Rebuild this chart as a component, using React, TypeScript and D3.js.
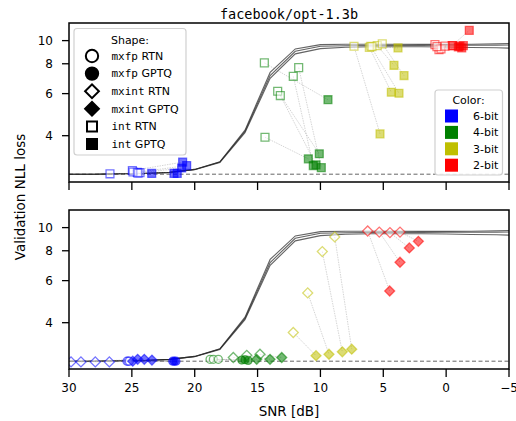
import React from 'react';
import * as d3 from 'd3';

// curves of the model loss vs SNR (three runs)
const snrGrid = [30, 28, 26, 24, 22, 20, 18, 16, 14, 12, 10, 8, 6, 4, 2, 0, -2, -4, -5];
const lossRunA = [2.76, 2.76, 2.77, 2.78, 2.81, 2.89, 3.11, 4.22, 7.36, 9.23, 9.62, 9.66, 9.66, 9.65, 9.64, 9.64, 9.66, 9.70, 9.72];
const lossRunB = [2.76, 2.76, 2.77, 2.78, 2.81, 2.89, 3.10, 4.17, 7.14, 9.02, 9.47, 9.52, 9.54, 9.55, 9.55, 9.56, 9.56, 9.57, 9.58];
const lossRunC = [2.76, 2.76, 2.77, 2.78, 2.81, 2.88, 3.09, 4.12, 6.95, 8.80, 9.26, 9.38, 9.42, 9.43, 9.42, 9.40, 9.36, 9.33, 9.30];
const baselineLoss = 2.76;

// top panel: int RTN -> int GPTQ, [snr, loss]
const int6RTN = [[26.74, 2.77], [24.96, 2.86], [24.57, 2.81], [24.35, 2.80], [24.91, 2.82], [24.51, 2.79]];
const int6GPTQ = [[23.42, 2.78], [20.96, 3.10], [20.64, 3.00], [21.39, 2.78], [21.65, 2.78], [21.04, 2.93]];
const int4RTN = [[14.46, 8.07], [14.41, 3.94], [11.73, 7.71], [12.16, 7.09], [13.40, 6.14], [13.19, 5.89]];
const int4GPTQ = [[9.40, 5.66], [10.96, 3.20], [9.93, 2.94], [10.57, 3.00], [10.09, 3.36], [10.35, 3.02]];
const int3RTN = [[7.33, 9.47], [6.11, 9.37], [6.00, 9.47], [5.48, 9.53], [5.08, 9.69], [5.90, 9.44]];
const int3GPTQ = [[5.26, 4.07], [4.36, 6.08], [3.75, 6.02], [4.15, 7.88], [3.35, 7.14], [3.83, 9.32]];
const int2RTN = [[0.89, 9.62], [0.57, 9.17], [0.41, 9.23], [0.73, 9.44], [-0.47, 9.53], [0.09, 9.48]];
const int2GPTQ = [[-0.52, 9.53], [-0.97, 9.41], [-1.24, 9.32], [-1.37, 9.53], [-1.84, 11.04], [-1.10, 9.48]];

// bottom panel: mxint / mxfp RTN -> GPTQ
const mxint6RTN = [[29.84, 2.74], [29.05, 2.74], [27.91, 2.74], [26.79, 2.74]];
const mxint6GPTQ = [[24.93, 2.76], [24.54, 2.81], [24.01, 2.81], [23.40, 2.79]];
const mxfp6RTN = [[25.39, 2.76], [25.30, 2.76], [25.20, 2.76]];
const mxfp6GPTQ = [[21.75, 2.76], [21.62, 2.76], [21.49, 2.76]];
const mxfp4RTN = [[18.78, 2.81], [18.52, 2.81], [18.12, 2.81]];
const mxfp4GPTQ = [[16.26, 2.79], [16.00, 2.80], [15.75, 2.78]];
const mxint4RTN = [[16.93, 2.86], [15.86, 2.92], [14.81, 2.95]];
const mxint4GPTQ = [[15.07, 2.81], [14.01, 2.81], [13.08, 2.86]];
const mxint3RTN = [[12.16, 3.64], [11.01, 5.33], [9.85, 7.94], [8.86, 9.14]];
const mxint3GPTQ = [[10.35, 2.91], [9.32, 2.95], [8.26, 3.02], [7.51, 3.10]];
const mxint2RTN = [[6.24, 9.68], [5.32, 9.58], [4.47, 9.53], [3.67, 9.58]];
const mxint2GPTQ = [[4.49, 5.43], [3.67, 7.16], [2.93, 8.22], [2.21, 8.76]];

const bitLabels = ['6-bit', '4-bit', '3-bit', '2-bit'];
const bitColors = ['#0000ff', '#008000', '#bfbf00', '#ff0000'];
const xTicks = [30, 25, 20, 15, 10, 5, 0, -5];
const yTicks = [4, 6, 8, 10];

const W = 516, H = 421;
const left = 69, right = 509;
const panels = [{ top: 23, bottom: 182 }, { top: 210, bottom: 369 }];

const x = d3.scaleLinear().domain([30, -5]).range([left, right]);
const font = 'DejaVu Sans';
const mono = 'DejaVu Sans Mono';

const symPath = (shape, size) => {
  if (shape === 'circle') return d3.symbol(d3.symbolCircle, size)();
  return d3.symbol(d3.symbolSquare, size)();
};

const Marker = ({ cx, cy, shape, color, filled, size, sw = 1.3, op = 0.55 }) => (
  <path
    d={symPath(shape, size)}
    transform={`translate(${cx},${cy})${shape === 'diamond' ? ' rotate(45)' : ''}`}
    fill={filled ? color : 'white'}
    fillOpacity={filled ? op : 0.5}
    stroke={color}
    strokeOpacity={op}
    strokeWidth={sw}
  />
);

const topGroups = [
  { shape: 'square', color: 0, rtn: int6RTN, gptq: int6GPTQ },
  { shape: 'square', color: 1, rtn: int4RTN, gptq: int4GPTQ },
  { shape: 'square', color: 2, rtn: int3RTN, gptq: int3GPTQ },
  { shape: 'square', color: 3, rtn: int2RTN, gptq: int2GPTQ },
];
const bottomGroups = [
  { shape: 'diamond', color: 0, rtn: mxint6RTN, gptq: mxint6GPTQ },
  { shape: 'circle', color: 0, rtn: mxfp6RTN, gptq: mxfp6GPTQ },
  { shape: 'circle', color: 1, rtn: mxfp4RTN, gptq: mxfp4GPTQ },
  { shape: 'diamond', color: 1, rtn: mxint4RTN, gptq: mxint4GPTQ },
  { shape: 'diamond', color: 2, rtn: mxint3RTN, gptq: mxint3GPTQ },
  { shape: 'diamond', color: 3, rtn: mxint2RTN, gptq: mxint2GPTQ },
];
const markerSize = { square: 62, diamond: 50, circle: 50 };

const Panel = ({ idx, groups, showXLabels }) => {
  const { top, bottom } = panels[idx];
  const y = d3.scaleLog().domain([2.56, 11.85]).range([bottom, top]);
  const line = d3.line().x(d => x(d[0])).y(d => y(d[1]));
  const runs = [lossRunA, lossRunB, lossRunC];
  const clipId = `clip${idx}`;
  return (
    <g>
      <clipPath id={clipId}>
        <rect x={left} y={top} width={right - left} height={bottom - top} />
      </clipPath>
      <g clipPath={`url(#${clipId})`}>
        <line x1={left} x2={right} y1={y(baselineLoss)} y2={y(baselineLoss)} stroke="#555" strokeWidth={0.9} strokeDasharray="4,2.5" />
        {runs.map((r, i) => (
          <path key={i} d={line(snrGrid.map((s, j) => [s, r[j]]))} fill="none" stroke="#222" strokeOpacity={0.7} strokeWidth={1.1} />
        ))}
        {groups.map((g, gi) => g.rtn.map((p, i) => (
          <line key={`l${gi}-${i}`} x1={x(p[0])} y1={y(p[1])} x2={x(g.gptq[i][0])} y2={y(g.gptq[i][1])}
            stroke="#888" strokeOpacity={0.6} strokeWidth={0.6} strokeDasharray="1.5,1" />
        )))}
        {groups.map((g, gi) => g.rtn.map((p, i) => (
          <Marker key={`r${gi}-${i}`} cx={x(p[0])} cy={y(p[1])} shape={g.shape} color={bitColors[g.color]} filled={false} size={markerSize[g.shape]} />
        )))}
        {groups.map((g, gi) => g.gptq.map((p, i) => (
          <Marker key={`g${gi}-${i}`} cx={x(p[0])} cy={y(p[1])} shape={g.shape} color={bitColors[g.color]} filled={true} size={markerSize[g.shape]} />
        )))}
      </g>
      <rect x={left} y={top} width={right - left} height={bottom - top} fill="none" stroke="black" strokeWidth={1.5} />
      {yTicks.map(t => (
        <g key={t}>
          <line x1={left - 7} x2={left} y1={y(t)} y2={y(t)} stroke="black" strokeWidth={1.3} />
          <text x={left - 16} y={y(t)} dy="0.35em" textAnchor="end" fontFamily={font} fontSize={12}>{t}</text>
        </g>
      ))}
      {xTicks.map(t => (
        <g key={t}>
          <line x1={x(t)} x2={x(t)} y1={bottom} y2={bottom + 8} stroke="black" strokeWidth={1.3} />
          {showXLabels && (
            <text x={x(t)} y={bottom + 23} textAnchor="middle" fontFamily={font} fontSize={12}>{t < 0 ? `\u2212${-t}` : t}</text>
          )}
        </g>
      ))}
    </g>
  );
};

const shapeLegend = [
  { shape: 'circle', filled: false, fmt: 'mxfp', method: 'RTN' },
  { shape: 'circle', filled: true, fmt: 'mxfp', method: 'GPTQ' },
  { shape: 'diamond', filled: false, fmt: 'mxint', method: 'RTN' },
  { shape: 'diamond', filled: true, fmt: 'mxint', method: 'GPTQ' },
  { shape: 'square', filled: false, fmt: 'int', method: 'RTN' },
  { shape: 'square', filled: true, fmt: 'int', method: 'GPTQ' },
];
const legendSize = { circle: 120, diamond: 95, square: 100 };

export default function App() {
  return (
    <svg width={W} height={H} style={{ position: 'fixed', left: 0, top: 0, background: 'white' }}>
      <rect width={W} height={H} fill="white" />
      <text x={289} y={19} textAnchor="middle" fontFamily={mono} fontSize={13.5}>facebook/opt-1.3b</text>
      <Panel idx={0} groups={topGroups} showXLabels={false} />
      <Panel idx={1} groups={bottomGroups} showXLabels={true} />
      <text transform="translate(25,197) rotate(-90)" textAnchor="middle" fontFamily={font} fontSize={13.5}>Validation NLL loss</text>
      <text x={289} y={416} textAnchor="middle" fontFamily={font} fontSize={13.5}>SNR [dB]</text>

      {/* shape legend */}
      <g>
        <rect x={74} y={28.5} width={112} height={126.5} rx={3} fill="white" fillOpacity={0.85} stroke="#d0d0d0" strokeWidth={1.2} />
        <text x={130} y={44} textAnchor="middle" fontFamily={font} fontSize={11}>Shape:</text>
        {shapeLegend.map((s, i) => {
          const cy = 56 + i * 17.6;
          return (
            <g key={i}>
              <Marker cx={92} cy={cy} shape={s.shape} color="black" filled={s.filled} size={legendSize[s.shape]} sw={2} op={1} />
              <text x={111.5} y={cy} dy="0.35em" fontSize={11}>
                <tspan fontFamily={mono}>{s.fmt}</tspan>
                <tspan fontFamily={font}>{` ${s.method}`}</tspan>
              </text>
            </g>
          );
        })}
      </g>

      {/* color legend */}
      <g>
        <rect x={435} y={90} width={67.5} height={85} rx={3} fill="white" fillOpacity={0.85} stroke="#d0d0d0" strokeWidth={1.2} />
        <text x={468.5} y={104} textAnchor="middle" fontFamily={font} fontSize={11}>Color:</text>
        {bitLabels.map((b, i) => {
          const cy = 116 + i * 16.4;
          return (
            <g key={b}>
              <rect x={445} y={cy - 6.5} width={13} height={13} fill={bitColors[i]} />
              <text x={473} y={cy} dy="0.35em" fontFamily={font} fontSize={11}>{b}</text>
            </g>
          );
        })}
      </g>
    </svg>
  );
}
